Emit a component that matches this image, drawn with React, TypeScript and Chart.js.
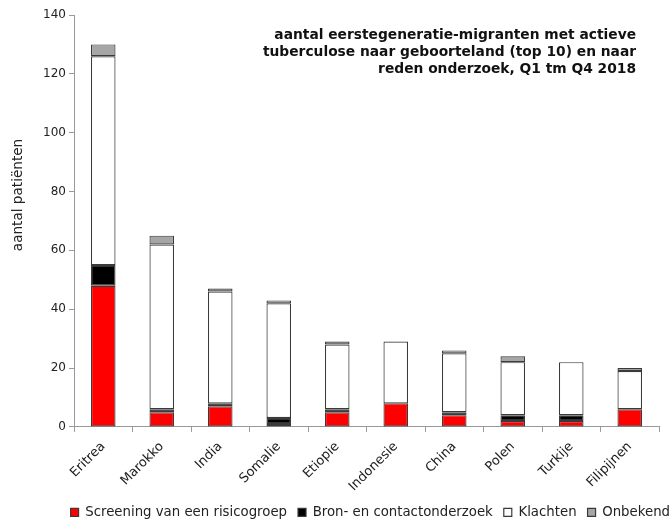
import React, { useEffect, useRef } from "react";
import { Chart, registerables } from "chart.js";

Chart.register(...registerables);

const categories = ["Eritrea", "Marokko", "India", "Somalie", "Etiopie", "Indonesie", "China", "Polen", "Turkije", "Filipijnen"];
const screening = [48, 5, 7, 1, 5, 8, 4, 2, 2, 6];
const bronContact = [7, 1, 1, 2, 1, 0, 1, 2, 2, 0];
const klachten = [71, 56, 38, 39, 22, 21, 20, 18, 18, 13];
const onbekend = [4, 3, 1, 1, 1, 0, 1, 2, 0, 1];
const yTicks = [0, 20, 40, 60, 80, 100, 120, 140];
const yTitle = "aantal patiënten";
const titleLines = [
  "aantal eerstegeneratie-migranten met actieve",
  "tuberculose naar geboorteland (top 10) en naar",
  "reden onderzoek, Q1 tm Q4 2018",
];

const FONT = "'DejaVu Sans', Verdana, sans-serif";

const textPlugin = {
  id: "extraText",
  afterDraw(chart: any) {
    const ctx = chart.ctx;
    ctx.save();
    ctx.font = `bold 13.8px ${FONT}`;
    ctx.fillStyle = "#111";
    ctx.textAlign = "right";
    ctx.textBaseline = "middle";
    titleLines.forEach((t, i) => ctx.fillText(t, 636, 35 + i * 17));
    ctx.restore();

    ctx.save();
    ctx.font = `13.6px ${FONT}`;
    ctx.fillStyle = "#222";
    ctx.textAlign = "center";
    ctx.textBaseline = "middle";
    ctx.translate(18, 195);
    ctx.rotate(-Math.PI / 2);
    ctx.fillText(yTitle, 0, 0);
    ctx.restore();
  },
};

export default function App() {
  const ref = useRef<HTMLCanvasElement | null>(null);
  useEffect(() => {
    if (!ref.current) return;
    const border = "#3a3a3a";
    const mk = (label: string, data: number[], color: string) => ({
      label,
      data,
      backgroundColor: color,
      borderColor: border,
      borderWidth: 1.2,
      borderSkipped: false as any,
      categoryPercentage: 1,
      barPercentage: 0.42,
    });
    const chart = new Chart(ref.current, {
      type: "bar",
      data: {
        labels: categories,
        datasets: [
          mk("Screening van een risicogroep", screening, "#FF0000"),
          mk("Bron- en contactonderzoek", bronContact, "#000000"),
          mk("Klachten", klachten, "#FFFFFF"),
          mk("Onbekend", onbekend, "#A6A6A6"),
        ],
      },
      options: {
        animation: false,
        responsive: true,
        maintainAspectRatio: false,
        layout: { padding: { left: 0, right: -9, top: 15, bottom: -8 } },
        plugins: {
          tooltip: { enabled: false },
          legend: {
            position: "bottom",
            align: "end",
            maxWidth: 800,
            labels: {
              boxWidth: 8,
              boxHeight: 8,
              padding: 11,
              color: "#222",
              font: { family: FONT, size: 13.3 },
            },
          },
        },
        scales: {
          x: {
            stacked: true,
            afterFit: (s: any) => {
              s.height = 67.8;
            },
            border: { color: "#999" },
            grid: { drawOnChartArea: false, tickLength: 5, color: "#999" },
            ticks: {
              color: "#222",
              font: { family: FONT, size: 13 },
              minRotation: 45,
              maxRotation: 45,
              padding: 7,
            },
          },
          y: {
            stacked: true,
            min: 0,
            max: 140,
            afterFit: (s: any) => {
              s.width = 74;
            },
            afterBuildTicks: (s: any) => {
              s.ticks = yTicks.map((v) => ({ value: v }));
            },
            border: { color: "#999" },
            grid: { drawOnChartArea: false, tickLength: 5, color: "#999" },
            ticks: { color: "#222", font: { family: FONT, size: 12 }, padding: 3 },
          },
          yRight: {
            position: "right",
            display: true,
            afterFit: (s: any) => {
              s.width = 22;
            },
            grid: { display: false },
            border: { display: false },
            ticks: { display: false },
          },
        },
      },
      plugins: [textPlugin],
    });
    return () => chart.destroy();
  }, []);
  return (
    <div style={{ position: "fixed", left: 0, top: 0, width: 672, height: 521 }}>
      <canvas ref={ref} />
    </div>
  );
}
